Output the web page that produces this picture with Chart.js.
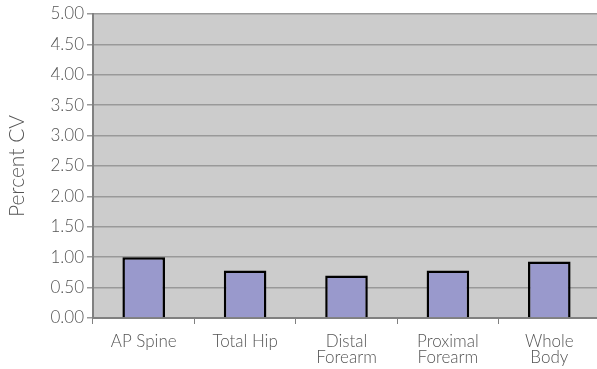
<!DOCTYPE html>
<html>
<head>
<meta charset="utf-8">
<script src="https://cdn.jsdelivr.net/npm/chart.js@4"></script>
<style>
  body { margin: 0; overflow: hidden; background: #fff; }
  #wrap { width: 601px; height: 369px; position: relative; }
</style>
</head>
<body>
<div id="wrap"><canvas id="chart"></canvas></div>
<script>
const sites = [['AP Spine'], ['Total Hip'], ['Distal', 'Forearm'], ['Proximal', 'Forearm'], ['Whole', 'Body']];
const percentCV = [1.00, 0.78, 0.70, 0.78, 0.93];
const yTicks = [0, 0.5, 1, 1.5, 2, 2.5, 3, 3.5, 4, 4.5, 5];

const plotBg = {
  id: 'plotBg',
  beforeDraw(chart) {
    const { ctx, chartArea: a } = chart;
    ctx.save();
    ctx.fillStyle = '#cccccc';
    ctx.fillRect(a.left, a.top, a.right - a.left, a.bottom - a.top);
    ctx.restore();
  }
};

const font = { family: 'Lato', weight: 300, size: 17, lineHeight: 0.95 };

new Chart(document.getElementById('chart'), {
  type: 'bar',
  data: {
    labels: sites,
    datasets: [{
      label: 'Percent CV',
      data: percentCV,
      backgroundColor: '#9999cc',
      borderColor: '#000000',
      borderWidth: 2.5,
      barPercentage: 0.42,
      categoryPercentage: 1.0
    }]
  },
  options: {
    responsive: true,
    maintainAspectRatio: false,
    animation: false,
    layout: { padding: { top: 14, right: 1, left: 0, bottom: 0 } },
    plugins: { legend: { display: false }, tooltip: { enabled: false } },
    scales: {
      x: {
        offset: true,
        grid: { offset: true, drawOnChartArea: false, color: '#808080', tickLength: 6 },
        border: { color: '#808080', width: 2 },
        ticks: { color: '#555', font: font, padding: 9, maxRotation: 0 },
        afterFit(s) { s.height = 51; }
      },
      y: {
        min: 0,
        max: 5,
        afterBuildTicks(s) { s.ticks = yTicks.map(v => ({ value: v })); },
        grid: { color: '#999999', lineWidth: 1.5, tickLength: 6 },
        border: { color: '#808080', width: 2 },
        ticks: { color: '#555', font: font, padding: 3, callback: v => v.toFixed(2) },
        title: { display: true, text: 'Percent CV', color: '#555', font: { family: 'Lato', weight: 300, size: 21 }, padding: { top: 5, bottom: 0 } },
        afterFit(s) { s.width = 93; }
      }
    }
  },
  plugins: [plotBg]
});
</script>
</body>
</html>
